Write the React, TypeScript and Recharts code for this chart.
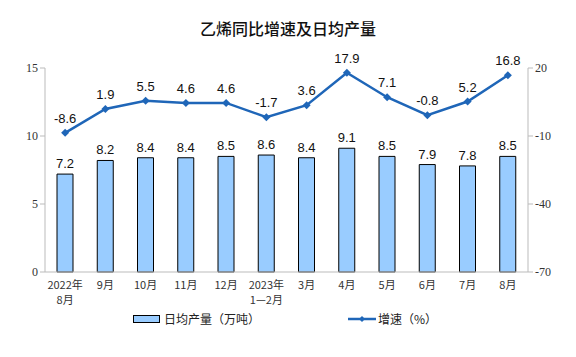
import { ComposedChart, Bar, Line, XAxis, YAxis, LabelList } from "recharts";

const categories = ["2022年\n8月", "9月", "10月", "11月", "12月", "2023年\n1—2月", "3月", "4月", "5月", "6月", "7月", "8月"];
const output = [7.2, 8.2, 8.4, 8.4, 8.5, 8.6, 8.4, 9.1, 8.5, 7.9, 7.8, 8.5];
const growth = [-8.6, 1.9, 5.5, 4.6, 4.6, -1.7, 3.6, 17.9, 7.1, -0.8, 5.2, 16.8];
const leftTicks = [0, 5, 10, 15];
const rightTicks = [-70, -40, -10, 20];

const data = categories.map((name, i) => ({ name, output: output[i], growth: growth[i] }));

const LINE = "#1F66B8";
const AXIS = "#BBBBBB";
const CJK = '"Noto Sans CJK SC", "Noto Sans", sans-serif';

const CatTick = ({ x, y, payload }: any) => {
  const lines = String(payload.value).split("\n");
  return (
    <text x={x} y={y} textAnchor="middle" fontSize={11} fill="#333" fontFamily={CJK}>
      {lines.map((l, i) => (
        <tspan key={i} x={x} dy={i === 0 ? 9 : 15}>
          {l}
        </tspan>
      ))}
    </text>
  );
};

export default function App() {
  return (
    <div style={{ position: "absolute", left: 0, top: 0, width: 576, height: 357, background: "#fff" }}>
      <div
        style={{
          position: "absolute",
          top: 16,
          width: 576,
          textAlign: "center",
          fontFamily: CJK,
          fontWeight: 500,
          fontSize: 16,
          color: "#111",
        }}
      >
        乙烯同比增速及日均产量
      </div>
      <ComposedChart width={576} height={357} data={data} margin={{ top: 68, right: 8, bottom: 55, left: 5 }}>
        <XAxis
          dataKey="name"
          tick={<CatTick />}
          tickLine={false}
          axisLine={{ stroke: AXIS }}
          interval={0}
          height={30}
        />
        <YAxis
          yAxisId="left"
          domain={[0, 15]}
          ticks={leftTicks}
          width={40}
          tickSize={5}
          tickLine={{ stroke: AXIS }}
          axisLine={{ stroke: AXIS }}
          tick={{ fontSize: 12, fill: "#333", fontFamily: '"Liberation Serif", serif' }}
        />
        <YAxis
          yAxisId="right"
          orientation="right"
          domain={[-70, 20]}
          ticks={rightTicks}
          width={40}
          tickSize={5}
          tickLine={{ stroke: AXIS }}
          axisLine={{ stroke: AXIS }}
          tick={{ fontSize: 12, fill: "#333", fontFamily: '"Liberation Serif", serif' }}
        />
        <Bar yAxisId="left" dataKey="output" fill="#99CCFF" stroke="#000" strokeWidth={1} barSize={16} isAnimationActive={false}>
          <LabelList dataKey="output" position="top" offset={6} fontSize={13} fill="#111" fontFamily='"Liberation Sans", Arial, sans-serif' />
        </Bar>
        <Line
          yAxisId="right"
          dataKey="growth"
          stroke={LINE}
          strokeWidth={2.5}
          dot={(p: any) => (
            <path key={p.index} d={`M${p.cx},${p.cy - 4}L${p.cx + 4},${p.cy}L${p.cx},${p.cy + 4}L${p.cx - 4},${p.cy}Z`} fill={LINE} />
          )}
          isAnimationActive={false}
        >
          <LabelList dataKey="growth" position="top" offset={10} fontSize={13} fill="#111" fontFamily='"Liberation Sans", Arial, sans-serif' />
        </Line>
      </ComposedChart>
      <div style={{ position: "absolute", top: 310, left: 133, display: "flex", alignItems: "center", fontFamily: CJK, fontSize: 12, color: "#222" }}>
        <span style={{ display: "inline-block", width: 25, height: 6, background: "#99CCFF", border: "1.5px solid #000", marginRight: 4 }} />
        日均产量（万吨）
      </div>
      <div style={{ position: "absolute", top: 310, left: 348, display: "flex", alignItems: "center", fontFamily: CJK, fontSize: 12, color: "#222" }}>
        <svg width={28} height={10} style={{ marginRight: 2 }}>
          <line x1={0} y1={5} x2={28} y2={5} stroke={LINE} strokeWidth={2.5} />
          <path d="M14,2L17,5L14,8L11,5Z" fill={LINE} />
        </svg>
        增速（%）
      </div>
    </div>
  );
}
